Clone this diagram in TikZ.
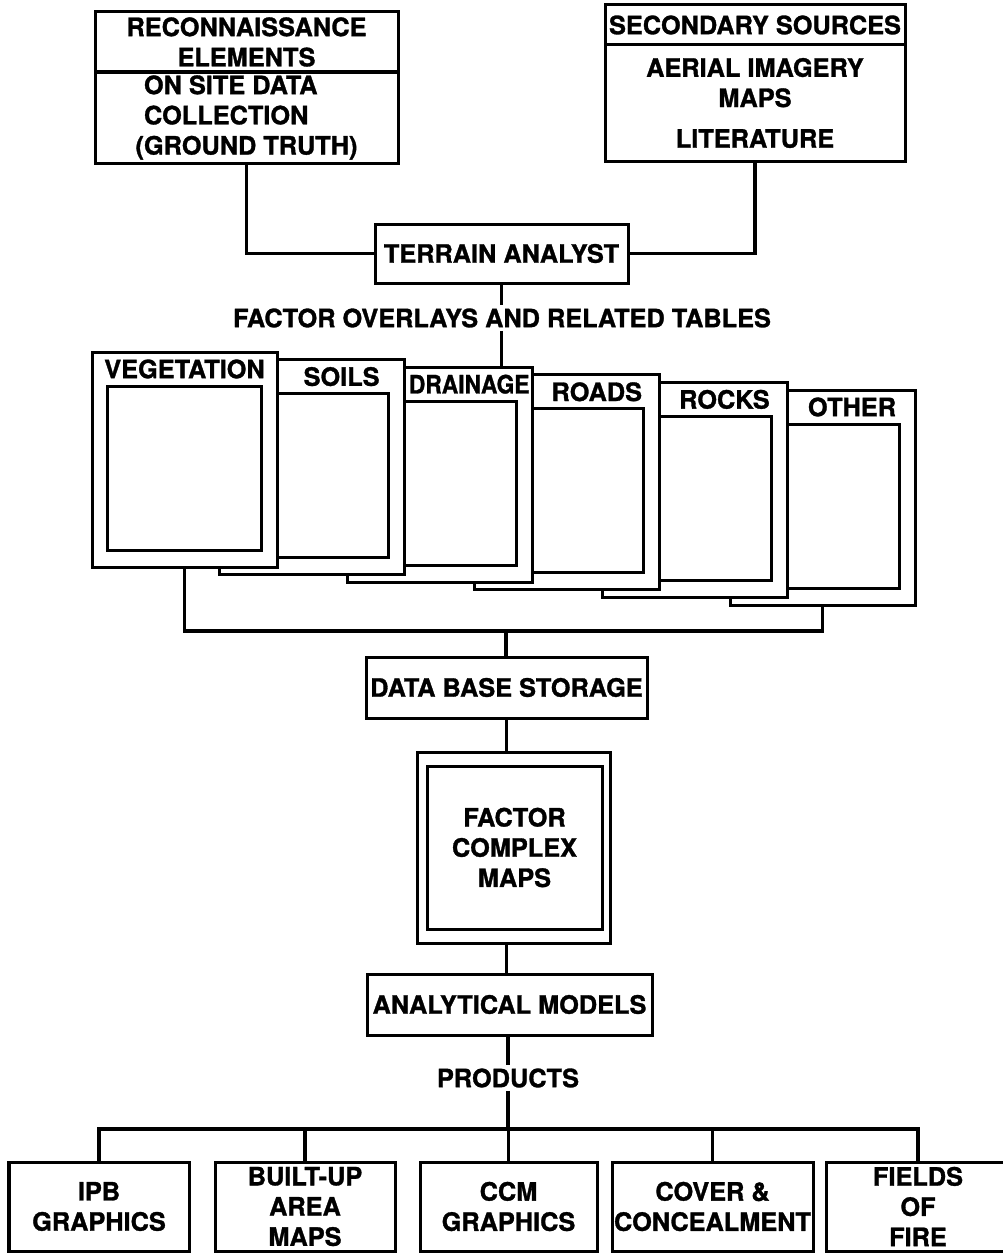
\documentclass[tikz,border=0pt]{standalone}
\usepackage{fontspec}
\setmainfont{TeX Gyre Heros}[BoldFeatures={FakeBold=1.2}]
\usepackage{tikz}
\usetikzlibrary{positioning}
\usetikzlibrary{calc}
\newcommand{\px}{0.025cm}

\begin{document}
\begin{tikzpicture}[
  x=\px, y=-\px,
  font=\fontsize{18}{21.5}\selectfont\bfseries,
  dep/.style ={
    line width=0.8mm
  },
  box/.style 2 args={
    rectangle,
    draw,
    line width=0.75mm,
    fill=white,
    minimum width=#1*\px,
    minimum height=#2*\px,
    inner sep=0pt,
    outer sep=0pt,
    align=center},
  lbl/.style={
    inner sep=0.075cm,
    align=center},
]

  \def\stepx{127.6}%
  \def\stepy{7.6}%

  \useasboundingbox (0,0) rectangle (1002,1255);
  \fill[white] (0,0) rectangle (1002,1255);

    % Sources
  \node[box={303}{60}] (recon_top) at (246.5,42) {RECONNAISSANCE\\ELEMENTS};
  \node[box={303}{91}, below=0pt of recon_top, align=left] (recon_bot)
      {\hphantom{(}ON SITE DATA\\\hphantom{(}COLLECTION\\(GROUND TRUTH)};
  \node[box={300}{40}] (sec_top) at (755,25) {SECONDARY SOURCES};
  \node[box={300}{116}, below=0pt of sec_top] (sec_bot)
      {AERIAL IMAGERY\\MAPS\\[0.26cm]LITERATURE};

  \node[box={253}{59}] (terrain) at (501.5,253.5) {TERRAIN ANALYST};
  \draw[dep] (recon_bot.south) |- (terrain.west);
  \draw[dep] (sec_bot.south) |- (terrain.east);

  \node[lbl] (ov_title) at (502,318) {FACTOR OVERLAYS AND RELATED TABLES};

    % Overlays
  \foreach \i/\name/\lx/\sx in {6/OTHER/29.5/1, 5/ROCKS/29.5/1,
      4/ROADS/29.5/1, 3/DRAINAGE/29.5/0.9, 2/SOILS/29.5/1,
      1/VEGETATION/0/1} {
    \node[box={185}{215}] (ov\i)
        at ({184.5+\stepx*(\i-1)}, {459.5+\stepy*(\i-1)}) {};
    \node[box={154}{164}] (pane\i) at ($(ov\i.center)+(-0.5,8.5)$) {};
    \node[lbl] (ov_lbl\i) at ($(ov\i.north)+(\lx,17)$)
        {\scalebox{\sx}[1]{\name}};
  }

  \draw[dep] (terrain.south) -- (terrain.south |- ov_title.north);
  \draw[dep] (terrain.south |- ov_title.south) -- (terrain.south |- ov3.north);

  \coordinate (bus1) at (506,631);
  \draw[dep] (ov1.south) |- (bus1) -| (ov6.south);

    % Storage and models
  \node[box={281}{61}] (dbs) at (506.5,687.5) {DATA BASE STORAGE};
  \draw[dep] (bus1) -- (bus1 |- dbs.north);

  \node[box={193}{191}] (fcm) at (513.5,847.5) {};
  \node[box={175}{163}] (fcm_in) at ($(fcm.center)+(1,0)$)
      {FACTOR\\COMPLEX\\MAPS};
  \draw[dep] (dbs.south) -- (dbs.south |- fcm.north);

  \node[box={285}{61}] (am) at (509.5,1004.5) {ANALYTICAL MODELS};
  \draw[dep] (dbs.south |- fcm.south) -- (dbs.south |- am.north);

  \node[lbl] (prod_lbl) at (508,1078) {PRODUCTS};
  \coordinate (bus2) at (508,1129);
  \draw[dep] (am.south -| bus2) -- (bus2 |- prod_lbl.north);
  \draw[dep] (bus2 |- prod_lbl.south) -- (bus2);

    % Products
  \foreach \i/\cx/\w/\txt in {1/99/180/{IPB\\GRAPHICS},
      2/305/180/{BUILT-UP\\AREA\\MAPS},
      3/508.5/177/{CCM\\GRAPHICS},
      4/712.5/201/{COVER \&\\CONCEALMENT},
      5/918/183/{FIELDS\\OF\\FIRE}} {
    \node[box={\w}{89}] (out\i) at (\cx,1206.5) {\txt};
  }
  \draw[dep] (out1.north) |- (bus2) -| (out5.north);
  \foreach \i in {2,3,4} {
    \draw[dep] (out\i.north |- bus2) -- (out\i.north);
  }

\end{tikzpicture}
\end{document}
